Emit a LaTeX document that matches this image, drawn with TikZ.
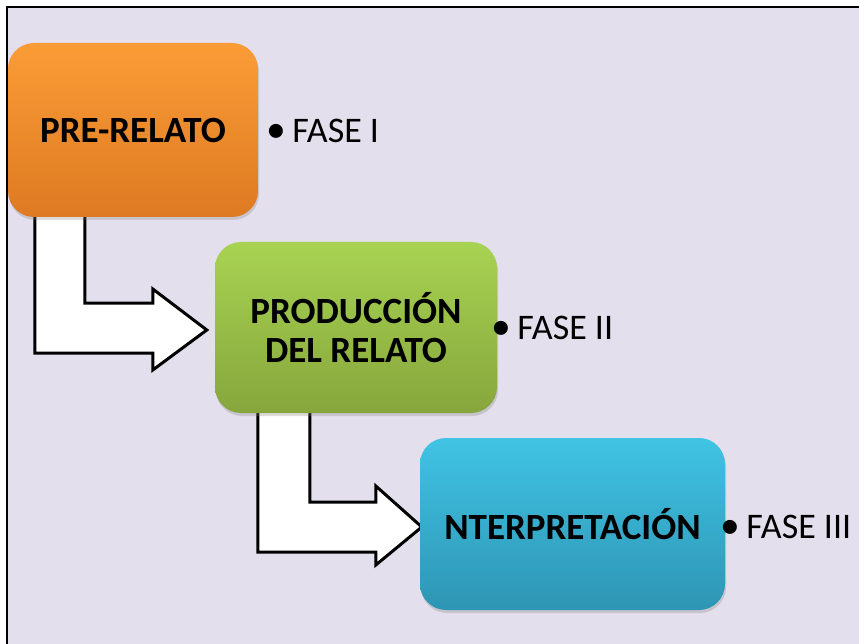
\documentclass[tikz,border=0pt]{standalone}
\usepackage{fontspec}
\setmainfont{Carlito}
\usetikzlibrary{calc,shadows}
\pgfdeclarelayer{bglayer}
\pgfdeclarelayer{arrowlayer}
\pgfsetlayers{bglayer,arrowlayer,main}
\definecolor{bgc}{HTML}{E4DFEC}
\definecolor{orTop}{HTML}{FA9C36}
\definecolor{orBot}{HTML}{DE7A22}
\definecolor{grTop}{HTML}{A8D352}
\definecolor{grBot}{HTML}{86A63C}
\definecolor{blTop}{HTML}{40C3E4}
\definecolor{blBot}{HTML}{2E95B4}
\newcommand{\bul}{\llap{\scalebox{1.1}{•}\hspace{6pt}}}
\tikzset{
  phasebox/.style={rounded corners=26pt, inner sep=0pt, align=center,
    font=\bfseries\fontsize{37}{39}\selectfont,
    drop shadow={opacity=0.28, shadow xshift=1pt, shadow yshift=-3pt}},
  phaselabel/.style={anchor=west, inner sep=0pt, font=\fontsize{36}{40}\selectfont},
  bentarrow/.style={draw=black, fill=white, line width=3pt, line join=miter}
}
\begin{document}
\begin{tikzpicture}[x=1pt,y=-1pt]
\useasboundingbox (0,0) rectangle (859,644);
\begin{pgfonlayer}{bglayer}
\fill[white] (0,0) rectangle (859,644);
\fill[bgc] (7,7) rectangle (859,644);
\draw[line width=2pt] (7,644) -- (7,7) -- (859,7);
\end{pgfonlayer}

\node[phasebox, minimum width=250pt, minimum height=174pt, top color=orTop, bottom color=orBot] (pre) at (133,130) {PRE-RELATO};
\node[phasebox, minimum width=282pt, minimum height=171pt, top color=grTop, bottom color=grBot] (prod) at (356,327.5) {PRODUCCIÓN\\DEL RELATO};
\node[phasebox, minimum width=305pt, minimum height=172pt, top color=blTop, bottom color=blBot] (interp) at (572.5,524) {NTERPRETACIÓN};

\node[phaselabel] (f1) at ($(pre.east)+(34,1)$) {\bul FASE I};
\node[phaselabel] (f2) at ($(prod.east)+(20,0)$) {\bul FASE II};
\node[phaselabel] (f3) at ($(interp.east)+(21,3)$) {\bul FASE III};

% arrow 1
\coordinate (t1) at ($(prod.west)+(-8,2.5)$);
\coordinate (s1) at ($(pre.south west)+(27,0)$);
\coordinate (r1) at ($(pre.south west)+(77,0)$);
\coordinate (b1) at ($(t1)+(-54,23)$);
\coordinate (h1) at ($(t1)+(-54,40)$);
\coordinate (g1) at ($(t1)+(-54,-41)$);
\coordinate (u1) at ($(t1)+(-54,-27)$);
% arrow 2
\coordinate (t2) at ($(interp.west)+(2,3)$);
\coordinate (s2) at ($(prod.south west)+(43,0)$);
\coordinate (r2) at ($(prod.south west)+(95,0)$);
\coordinate (b2) at ($(t2)+(-46,25)$);
\coordinate (h2) at ($(t2)+(-46,38)$);
\coordinate (g2) at ($(t2)+(-46,-41)$);
\coordinate (u2) at ($(t2)+(-46,-25)$);
\begin{pgfonlayer}{arrowlayer}
\draw[bentarrow] ($(s1)+(0,-10)$) -- (s1 |- b1) -- (b1) -- (h1) -- (t1) -- (g1) -- (u1) -- (r1 |- u1) -- ($(r1)+(0,-10)$) -- cycle;
\draw[bentarrow] ($(s2)+(0,-10)$) -- (s2 |- b2) -- (b2) -- (h2) -- (t2) -- (g2) -- (u2) -- (r2 |- u2) -- ($(r2)+(0,-10)$) -- cycle;
\end{pgfonlayer}
\end{tikzpicture}
\end{document}
